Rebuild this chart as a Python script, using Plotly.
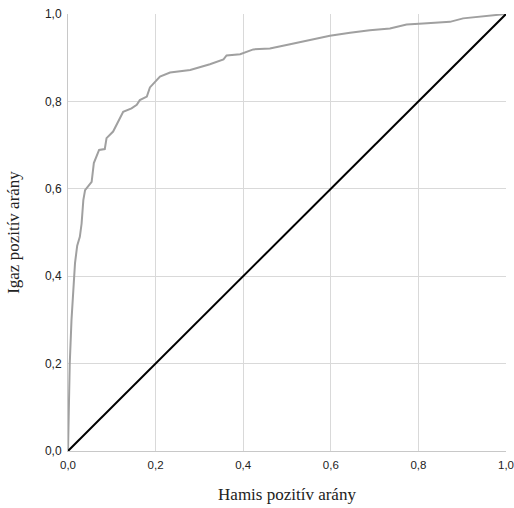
import plotly.graph_objects as go

fpr = [0.0, 0.002, 0.004, 0.008, 0.011, 0.014, 0.016, 0.021, 0.027, 0.031, 0.035,
       0.039, 0.046, 0.054, 0.059, 0.065, 0.071, 0.084, 0.088, 0.103, 0.111, 0.119,
       0.126, 0.145, 0.157, 0.164, 0.180, 0.187, 0.199, 0.210, 0.233, 0.279, 0.324,
       0.355, 0.362, 0.393, 0.423, 0.461, 0.507, 0.553, 0.598, 0.644, 0.689, 0.735,
       0.773, 0.811, 0.872, 0.902, 0.948, 0.994, 1.0]
tpr = [0.0, 0.10, 0.20, 0.30, 0.35, 0.40, 0.43, 0.47, 0.49, 0.52, 0.574,
       0.597, 0.606, 0.616, 0.659, 0.673, 0.689, 0.691, 0.716, 0.731, 0.746, 0.761,
       0.776, 0.784, 0.792, 0.803, 0.811, 0.832, 0.845, 0.857, 0.866, 0.872, 0.885,
       0.896, 0.905, 0.908, 0.919, 0.921, 0.931, 0.940, 0.950, 0.957, 0.963, 0.967,
       0.976, 0.978, 0.982, 0.990, 0.995, 1.0, 1.0]
diag = [0.0, 1.0]

x_title = "Hamis pozitív arány"
y_title = "Igaz pozitív arány"
ticks = [0.0, 0.2, 0.4, 0.6, 0.8, 1.0]

fig = go.Figure()
fig.add_trace(go.Scatter(x=fpr, y=tpr, mode="lines",
                         line=dict(color="#a0a0a0", width=2), hoverinfo="skip"))
fig.add_trace(go.Scatter(x=diag, y=diag, mode="lines",
                         line=dict(color="#000000", width=2), hoverinfo="skip"))

axis_common = dict(
    range=[0, 1], tickvals=ticks, tickformat=".1f",
    showgrid=True, gridcolor="#d9d9d9", gridwidth=1,
    showline=True, linecolor="#c8c8c8", linewidth=1,
    zeroline=False, ticks="outside", ticklen=3, tickcolor="rgba(0,0,0,0)",
    title_font=dict(family="Liberation Serif, Times New Roman, serif", size=17, color="#222222"),
    fixedrange=True, automargin=False, ticklabeloverflow="allow",
)

fig.update_layout(
    width=514, height=508,
    margin=dict(l=68, r=8, t=14, b=57, autoexpand=False),
    plot_bgcolor="white", paper_bgcolor="white",
    showlegend=False,
    separators=", ",
    xaxis=dict(**axis_common, title=dict(text=x_title, standoff=18),
               tickfont=dict(family="Liberation Sans, Arial, sans-serif", size=11.5, color="#222222")),
    yaxis=dict(**axis_common, title=dict(text=y_title, standoff=20),
               tickfont=dict(family="Liberation Sans, Arial, sans-serif", size=12, color="#222222")),
)

fig.write_html("out.html", config={"displayModeBar": False})
